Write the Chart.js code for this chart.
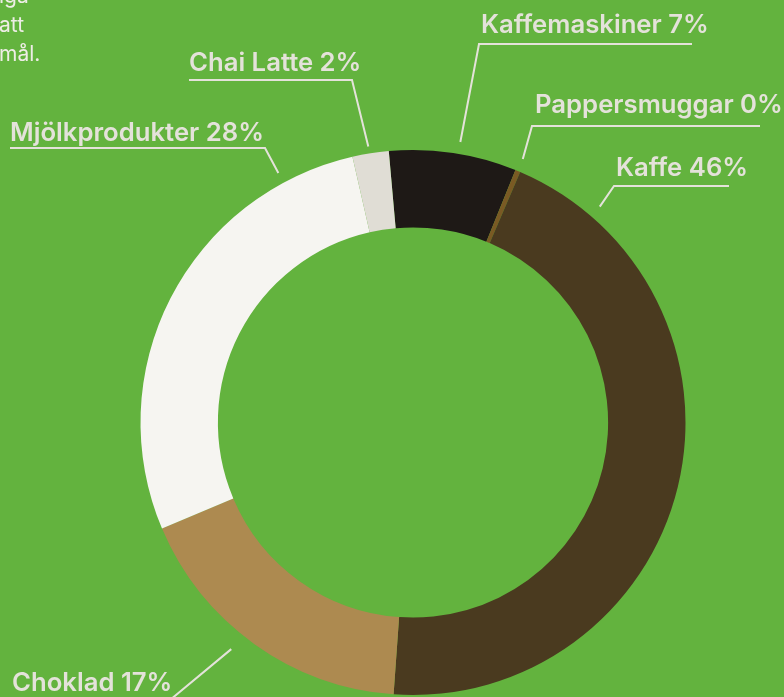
<!DOCTYPE html>
<html>
<head>
<meta charset="utf-8">
<script src="https://cdn.jsdelivr.net/npm/chart.js@4.4.1/dist/chart.umd.min.js"></script>
<style>
  html, body { margin: 0; padding: 0; background: #63b33e; overflow: hidden; }
  #wrap { position: relative; width: 784px; height: 697px; }
  #intro {
    position: absolute; left: -1px; top: -19px;
    font-family: Inter, "Noto Sans", sans-serif; font-size: 21px; line-height: 29px;
    color: #eeede6; white-space: pre;
  }
</style>
</head>
<body>
<div id="wrap">
  <canvas id="chartCanvas" width="784" height="697"></canvas>
  <div id="intro">iga
att
mål.</div>
</div>
<script>
// Données (ordre horaire depuis le haut)
var categories = ['Kaffemaskiner', 'Pappersmuggar', 'Kaffe', 'Choklad', 'Mjölkprodukter', 'Chai Latte'];
var values = [7.55, 0.3, 44.7, 17.5, 27.8, 2.15];
var percentLabels = ['7%', '0%', '46%', '17%', '28%', '2%'];
var colors = ['#1e1916', '#7a5a24', '#4a3a1f', '#ad8a50', '#f6f5f1', '#e0ddd5'];

var textColor = '#e4e2da';

// Position des étiquettes (ancre sur l'arc + coude + texte)
var labelLayout = [
  { frac: 0.54, gap: 12, elbow: [479, 44], end: 692, tx: 481, ty: 33 },
  { frac: 0.5,  gap: 13, elbow: [532, 126], end: 760, tx: 535, ty: 113 },
  { frac: 0.11, gap: 13, elbow: [614, 186], end: 729, tx: 616, ty: 176 },
  { frac: 0.55, gap: 18, elbow: [170, 700], end: 10,  tx: 12,  ty: 691 },
  { frac: 0.845, gap: 11, elbow: [265, 148], end: 10, tx: 10, ty: 141 },
  { frac: 0.47, gap: 7,  elbow: [352, 80], end: 189, tx: 189, ty: 71 }
];

var leaderPlugin = {
  id: 'leaders',
  afterDatasetsDraw: function(chart) {
    var ctx = chart.ctx;
    var arcs = chart.getDatasetMeta(0).data;
    ctx.save();
    ctx.strokeStyle = textColor;
    ctx.lineWidth = 2;
    ctx.fillStyle = textColor;
    ctx.font = '600 25.7px Inter, "Noto Sans", sans-serif';
    ctx.textBaseline = 'alphabetic';
    arcs.forEach(function(arc, i) {
      var l = labelLayout[i];
      var a = arc.startAngle + (arc.endAngle - arc.startAngle) * l.frac;
      var r = arc.outerRadius + l.gap;
      var px = arc.x + Math.cos(a) * r;
      var py = arc.y + Math.sin(a) * r;
      ctx.beginPath();
      ctx.moveTo(px, py);
      ctx.lineTo(l.elbow[0], l.elbow[1]);
      ctx.lineTo(l.end, l.elbow[1]);
      ctx.stroke();
      ctx.fillText(categories[i] + ' ' + percentLabels[i], l.tx, l.ty);
    });
    ctx.restore();
  }
};

var canvas = document.getElementById('chartCanvas');
var chart = new Chart(canvas, {
  type: 'doughnut',
  data: {
    labels: categories,
    datasets: [{
      data: values,
      backgroundColor: colors,
      borderWidth: 0
    }]
  },
  options: {
    responsive: false,
    animation: false,
    rotation: -5.1,
    cutout: '71.6%',
    layout: { padding: { top: 150, bottom: 2, left: 140.5, right: 98.5 } },
    plugins: {
      legend: { display: false },
      tooltip: { enabled: false }
    }
  },
  plugins: [leaderPlugin]
});
</script>
</body>
</html>
